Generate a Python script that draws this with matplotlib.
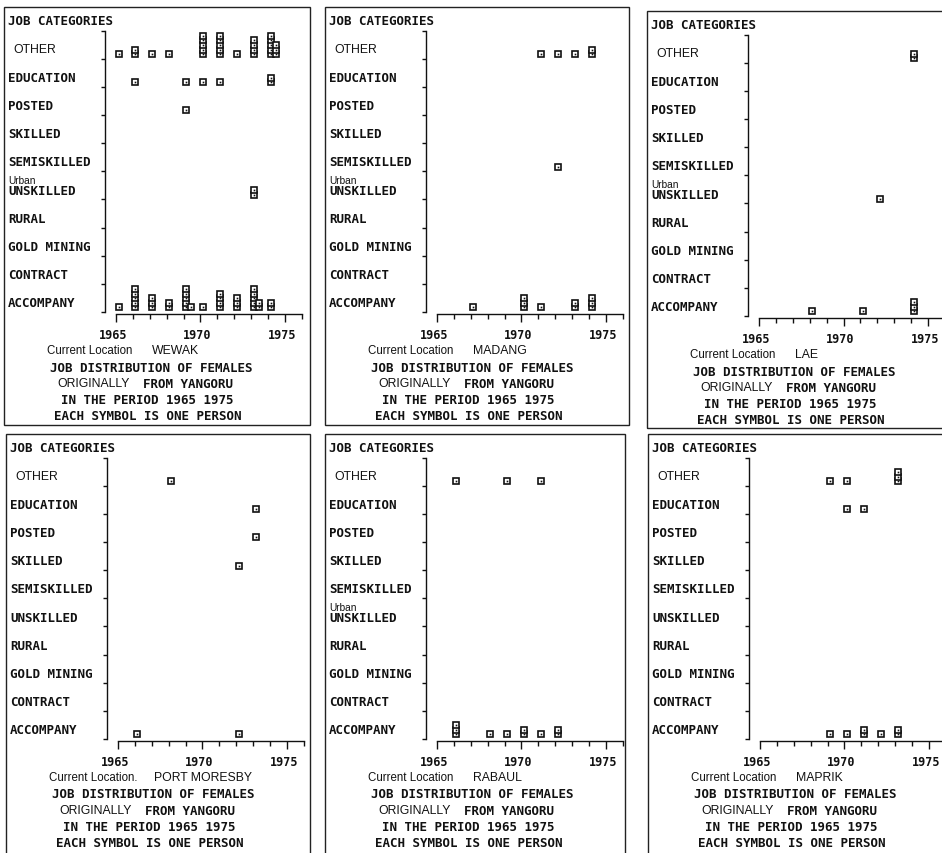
import matplotlib
matplotlib.use("Agg")
import matplotlib.pyplot as plt
from matplotlib.patches import Rectangle
from matplotlib.transforms import blended_transform_factory, ScaledTranslation

W, H = 942, 854

# Job categories, bottom band first
categories = ["ACCOMPANY", "CONTRACT", "GOLD MINING", "RURAL", "UNSKILLED",
              "SEMISKILLED", "SKILLED", "POSTED", "EDUCATION", "OTHER"]
all_years = list(range(1965, 1977))
major_years = [1965, 1970, 1975]
major_labels = ["1965", "1970", "1975"]

# People per category and year: {category: (years, counts)}
wewak = {
    "OTHER": ([1965, 1966, 1967, 1968, 1970, 1971, 1972, 1973, 1974],
              [1, 2, 1, 1, 5, 5, 1, 4, 8]),
    "EDUCATION": ([1966, 1969, 1970, 1971, 1974], [1, 1, 1, 1, 2]),
    "POSTED": ([1969], [1]),
    "UNSKILLED": ([1973], [2]),
    "ACCOMPANY": ([1965, 1966, 1967, 1968, 1969, 1970, 1971, 1972, 1973, 1974],
                  [1, 5, 3, 2, 6, 1, 4, 3, 7, 2]),
}
madang = {
    "OTHER": ([1971, 1972, 1973, 1974], [1, 1, 1, 2]),
    "SEMISKILLED": ([1972], [1]),
    "ACCOMPANY": ([1967, 1970, 1971, 1973, 1974], [1, 3, 1, 2, 3]),
}
lae = {
    "OTHER": ([1974], [2]),
    "UNSKILLED": ([1972], [1]),
    "ACCOMPANY": ([1968, 1971, 1974], [1, 1, 3]),
}
port_moresby = {
    "OTHER": ([1968], [1]),
    "EDUCATION": ([1973], [1]),
    "POSTED": ([1973], [1]),
    "SKILLED": ([1972], [1]),
    "ACCOMPANY": ([1966, 1972], [1, 1]),
}
rabaul = {
    "OTHER": ([1966, 1969, 1971], [1, 1, 1]),
    "ACCOMPANY": ([1966, 1968, 1969, 1970, 1971, 1972], [3, 1, 1, 2, 1, 2]),
}
maprik = {
    "OTHER": ([1969, 1970, 1973], [1, 1, 3]),
    "EDUCATION": ([1970, 1971], [1, 1]),
    "ACCOMPANY": ([1969, 1970, 1971, 1972, 1973], [1, 1, 2, 1, 2]),
}

locations = ["WEWAK", "MADANG", "LAE", "PORT MORESBY", "RABAUL", "MAPRIK"]
location_data = [wewak, madang, lae, port_moresby, rabaul, maprik]
location_prefix = ["Current Location", "Current Location", "Current Location",
                   "Current Location.", "Current Location", "Current Location"]
urban_note = [True, True, True, False, True, False]

# Panel frames in pixels: left, top, right, bottom
frames = [(4, 8, 310, 426), (325, 8, 629, 426), (647, 12, 960, 429),
          (6, 435, 310, 870), (325, 435, 625, 870), (648, 435, 960, 870)]

MONO = "DejaVu Sans Mono"
SANS = "Liberation Sans"
INK = "#111111"
PT = 72 / 100  # points per pixel
MONO_KW = dict(fontfamily=MONO, fontsize=9.0, fontweight="bold")

fig = plt.figure(figsize=(W / 100, H / 100), dpi=100)
fig.patch.set_facecolor("white")


def ftext(x, y, s, **kw):
    kw.setdefault("va", "center")
    kw.setdefault("ha", "left")
    kw.setdefault("color", INK)
    fig.text(x / W, 1 - y / H, s, transform=fig.transFigure, **kw)


PX_PER_YEAR = 16.9
X_SHIFT = 0.15        # symbols sit just right of the year tick
COL_STEP = 0.29       # horizontal step between symbol columns (years)
ROW_STEP = 0.165      # vertical step between stacked symbols (bands)
ROW_BASE = 0.16
MAX_STACK = 5

for loc, data, prefix, urban, (L, T, R, B) in zip(
        locations, location_data, location_prefix, urban_note, frames):
    fig.patches.append(Rectangle((L / W, 1 - B / H), (R - L) / W, (B - T) / H,
                                 transform=fig.transFigure, fill=False,
                                 ec="#222222", lw=1.0))

    ax_l, ax_r, ax_t, ax_b = L + 101, L + 298, T + 23.5, T + 305
    ax = fig.add_axes([ax_l / W, 1 - ax_b / H, (ax_r - ax_l) / W, (ax_b - ax_t) / H])
    ax.set_facecolor("none")
    x0 = 1965 - (112 - 101) / PX_PER_YEAR
    x1 = 1965 + (298 - 112) / PX_PER_YEAR
    ax.set_xlim(x0, x1)
    ax.set_ylim(0, 10)

    for side in ("top", "right"):
        ax.spines[side].set_visible(False)
    ax.spines["left"].set_bounds(0, 10)
    ax.spines["bottom"].set_bounds(1965, 1976)
    ax.spines["bottom"].set_position(("outward", 1.5))
    for sp in ax.spines.values():
        sp.set_color(INK)
        sp.set_linewidth(1.0)

    ax.set_yticks(range(11))
    ax.tick_params(axis="y", length=4.5 * PT, width=1.0, color=INK,
                   direction="out", labelleft=False)
    ax.set_xticks(major_years)
    ax.set_xticklabels(major_labels, fontfamily=MONO, fontsize=8.5,
                       fontweight="bold", color=INK)
    ax.set_xticks([y for y in all_years if y not in major_years], minor=True)
    ax.tick_params(axis="x", which="major", length=8 * PT, width=1.0,
                   color=INK, direction="out", pad=4)
    ax.tick_params(axis="x", which="minor", length=5 * PT, width=1.0,
                   color=INK, direction="out")
    nudge = ScaledTranslation(-3 / 100, 0, fig.dpi_scale_trans)
    for tl in ax.get_xticklabels():
        tl.set_transform(tl.get_transform() + nudge)

    # category labels down the left of the panel
    lab = blended_transform_factory(fig.transFigure, ax.transData)
    for k, cat in enumerate(categories):
        if cat == "OTHER":
            ax.text((L + 9) / W, k + 0.36, cat, transform=lab, fontfamily=SANS,
                    fontsize=8.8, va="center", ha="left", color=INK)
        else:
            ax.text((L + 4) / W, k + 0.33, cat, transform=lab, va="center",
                    ha="left", color=INK, **MONO_KW)
        if cat == "UNSKILLED" and urban:
            ax.text((L + 4) / W, k + 0.70, "Urban", transform=lab,
                    fontfamily=SANS, fontsize=7.3, va="center", ha="left",
                    color=INK)

    # one square symbol per person, stacked upward from the band floor
    xs, ys = [], []
    for cat, (yrs, counts) in data.items():
        k = categories.index(cat)
        for yr, n in zip(yrs, counts):
            for i in range(n):
                col, row = divmod(i, MAX_STACK)
                xs.append(yr + X_SHIFT + col * COL_STEP)
                ys.append(k + ROW_BASE + row * ROW_STEP)
    ax.plot(xs, ys, "s", ms=3.8, mfc="white", mec=INK, mew=1.2,
            ls="none", clip_on=False)
    ax.plot(xs, ys, "s", ms=1.2, mfc=INK, mec=INK, mew=0,
            ls="none", clip_on=False)

    # panel captions
    ftext(L + 4, T + 13.5, "JOB CATEGORIES", **MONO_KW)
    ftext(L + 43, T + 343, prefix, fontfamily=SANS, fontsize=8.3)
    ftext(L + 148, T + 343.5, loc, fontfamily=SANS, fontsize=8.8)
    ftext(L + 46, T + 360, "JOB DISTRIBUTION OF FEMALES", **MONO_KW)
    ftext(L + 53, T + 376.5, "ORIGINALLY", fontfamily=SANS, fontsize=8.8)
    ftext(L + 139, T + 376.5, "FROM YANGORU", **MONO_KW)
    ftext(L + 57, T + 393, "IN THE PERIOD 1965 1975", **MONO_KW)
    ftext(L + 50, T + 409, "EACH SYMBOL IS ONE PERSON", **MONO_KW)

fig.savefig("out.png", dpi=100, facecolor="white")
